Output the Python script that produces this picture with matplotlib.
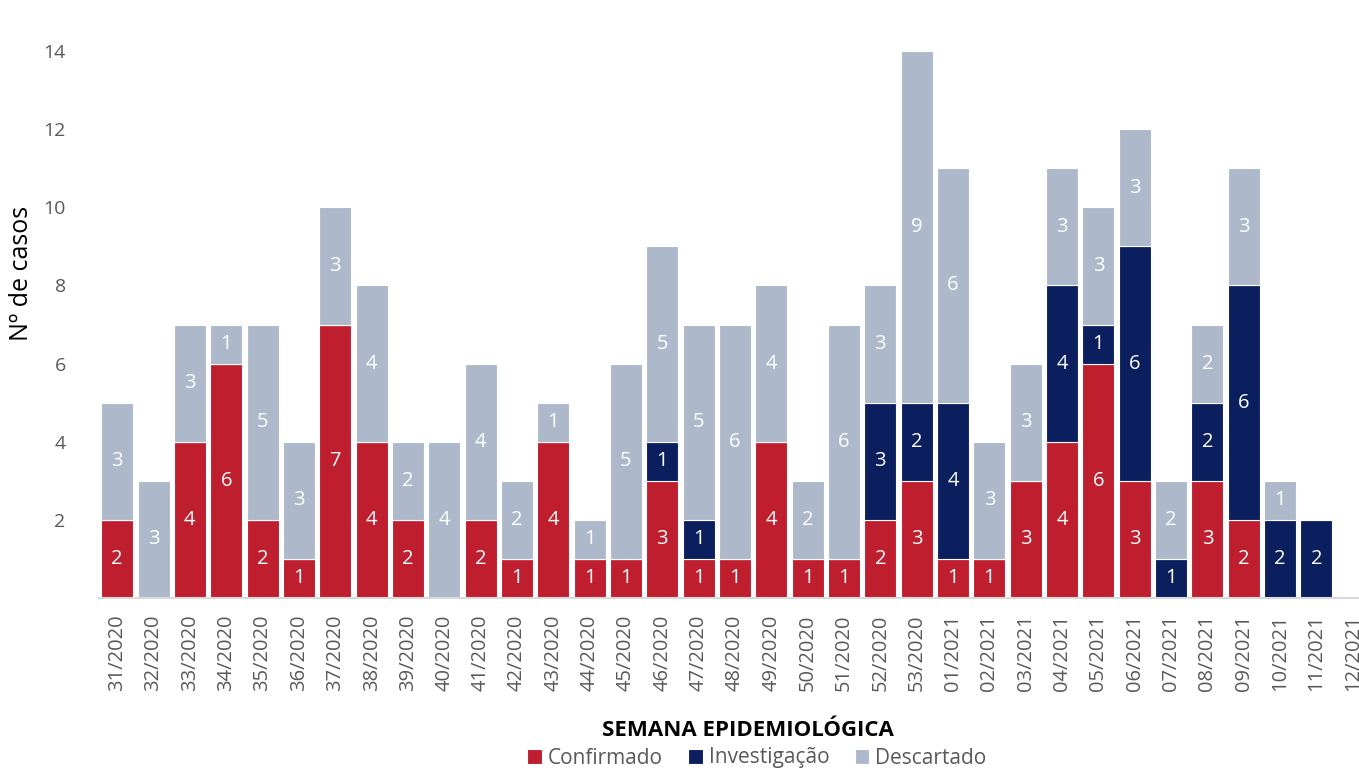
import numpy as np
import matplotlib.pyplot as plt

plt.rcParams['font.family'] = ['Open Sans', 'DejaVu Sans']

# --- Dados ---
semanas = ['31/2020', '32/2020', '33/2020', '34/2020', '35/2020', '36/2020', '37/2020',
           '38/2020', '39/2020', '40/2020', '41/2020', '42/2020', '43/2020', '44/2020',
           '45/2020', '46/2020', '47/2020', '48/2020', '49/2020', '50/2020', '51/2020',
           '52/2020', '53/2020', '01/2021', '02/2021', '03/2021', '04/2021', '05/2021',
           '06/2021', '07/2021', '08/2021', '09/2021', '10/2021', '11/2021', '12/2021']
confirmado = [2, 0, 4, 6, 2, 1, 7, 4, 2, 0, 2, 1, 4, 1, 1, 3, 1, 1, 4, 1, 1,
              2, 3, 1, 1, 3, 4, 6, 3, 0, 3, 2, 0, 0, 0]
investigacao = [0, 0, 0, 0, 0, 0, 0, 0, 0, 0, 0, 0, 0, 0, 0, 1, 1, 0, 0, 0, 0,
                3, 2, 4, 0, 0, 4, 1, 6, 1, 2, 6, 2, 2, 0]
descartado = [3, 3, 3, 1, 5, 3, 3, 4, 2, 4, 4, 2, 1, 1, 5, 5, 5, 6, 4, 2, 6,
              3, 9, 6, 3, 3, 3, 3, 3, 2, 2, 3, 1, 0, 0]

cores = {'Confirmado': '#BE1E2D', 'Investigação': '#0B1F5E', 'Descartado': '#ADB9CA'}

fig = plt.figure(figsize=(13.59, 7.68), dpi=100)
ax = fig.add_axes([99/1359, 1 - 598/768, 1272/1359, 547/768])

x = np.arange(len(semanas))
base = np.zeros(len(semanas))
for nome, vals in [('Confirmado', confirmado), ('Investigação', investigacao),
                   ('Descartado', descartado)]:
    vals = np.array(vals, dtype=float)
    bars = ax.bar(x, vals, bottom=base, width=0.88, color=cores[nome],
                  edgecolor='white', linewidth=0.8, label=nome)
    labels = [str(int(v)) if v > 0 else '' for v in vals]
    ax.bar_label(bars, labels=labels, label_type='center', color='white', fontsize=14.5)
    base += vals

ax.set_xlim(-0.5, len(semanas) - 0.5)
ax.set_ylim(0, 14)
ax.set_yticks([2, 4, 6, 8, 10, 12, 14])
ax.set_xticks(x)
ax.set_xticklabels(semanas, rotation=90)
ax.tick_params(axis='y', length=0, pad=24, labelsize=14, labelcolor='#595959')
ax.tick_params(axis='x', length=0, pad=12, labelsize=14.5, labelcolor='#595959')

for s in ['top', 'right', 'left']:
    ax.spines[s].set_visible(False)
ax.spines['bottom'].set_color('#D9D9D9')
ax.spines['bottom'].set_linewidth(1.5)

ax.set_ylabel('Nº de casos', fontsize=18, color='black')
ax.yaxis.set_label_coords(-0.051, 0.594)
fig.text(0.55, 1 - 731/768, 'SEMANA EPIDEMIOLÓGICA', ha='center', va='center',
         fontsize=16, fontweight='bold')

fig.legend(loc='center', bbox_to_anchor=(0.557, 1 - 758/768), ncol=3, frameon=False,
           fontsize=15, handlelength=0.7, handleheight=0.7, handletextpad=0.3,
           columnspacing=1.2, labelcolor='#595959', borderpad=0)

fig.savefig('out.png', dpi=100)
